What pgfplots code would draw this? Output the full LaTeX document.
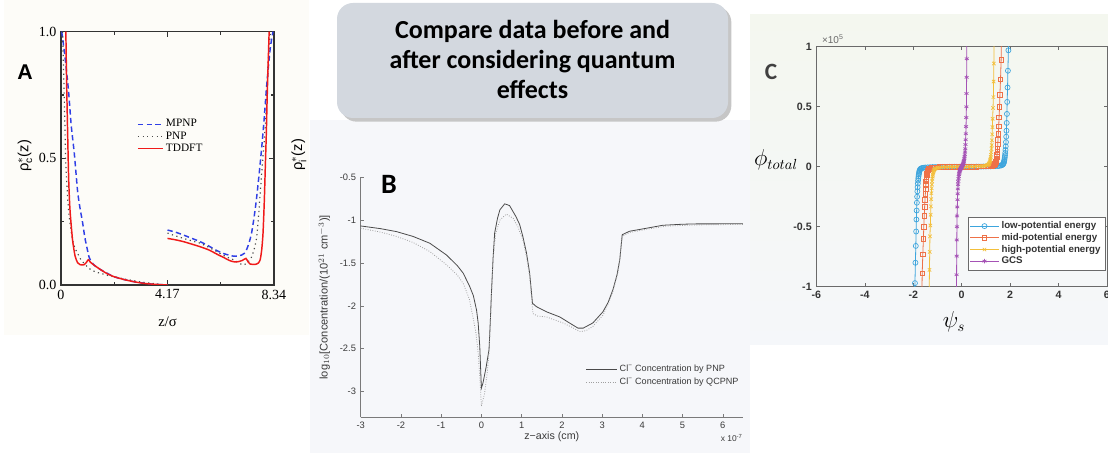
\documentclass[border=0pt]{standalone}
\usepackage{fontspec}
\setmainfont{Liberation Sans}
\newfontfamily\timesf{Liberation Serif}
\newfontfamily\calib{Carlito}
\usepackage{pgfplots}
\pgfplotsset{compat=1.18}

\definecolor{bgA}{HTML}{FDFCF8}
\definecolor{bgB}{HTML}{F6F7FA}
\definecolor{bgCt}{HTML}{F4F7EF}
\definecolor{bgCb}{HTML}{F5F7FA}
\definecolor{boxc}{HTML}{D3D8DF}
\definecolor{axA}{HTML}{333333}
\definecolor{mpnp}{HTML}{2F3FE6}
\definecolor{pnp}{HTML}{4A4A4A}
\definecolor{tddft}{HTML}{F01A1A}
\definecolor{axB}{HTML}{7A7A7A}
\definecolor{tickB}{HTML}{3A3A3A}
\definecolor{axC}{HTML}{6A6A6A}
\definecolor{tickC}{HTML}{333333}
\definecolor{lowc}{HTML}{3DA5DD}
\definecolor{midc}{HTML}{EE7148}
\definecolor{highc}{HTML}{F3BF3A}
\definecolor{gcsc}{HTML}{A552B5}

\begin{document}
\begin{tikzpicture}
% light panel backgrounds
\fill[bgA] (3pt,88.5pt) rectangle (232pt,339.75pt);
\fill[bgB] (232.5pt,0pt) rectangle (562.5pt,249.75pt);
\shade[top color=bgCt, bottom color=bgCb] (562.5pt,81pt) rectangle (831pt,328.5pt);

% title box
\fill[gray!45, rounded corners=12pt] (255.5pt,248.5pt) rectangle (548.5pt,335pt);
\fill[boxc, rounded corners=12pt] (252.75pt,251.25pt) rectangle (546pt,337.5pt);
\node[align=center, font=\calib\bfseries\fontsize{19.5}{22.5}\selectfont]
  at (399.4pt,295pt) {Compare data before and\\after considering quantum\\effects};

% ---------- panel A ----------
\begin{axis}[
  at={(45.75pt,126pt)}, anchor=south west,
  scale only axis, width=159.75pt, height=190pt,
  xmin=0, xmax=8.34, ymin=0, ymax=1,
  xtick={0,4.17,8.34}, xticklabels={0,4.17,8.34},
  ytick={0,0.5,1}, yticklabels={0.0,0.5,1.0},
  minor xtick={2.085,6.255}, minor ytick={0.25,0.75},
  tick align=inside, major tick length=4pt, minor tick length=2.5pt,
  axis line style={line width=1.1pt, color=axA},
  every tick/.style={line width=0.9pt, color=axA},
  ticklabel style={font=\timesf\fontsize{10.5}{12}\selectfont},
  xlabel={z/σ},
  xlabel style={font=\timesf\fontsize{11}{13}\selectfont, at={(axis description cs:0.5,-0.146)}, anchor=center},
  ylabel={ρ$^{*}_{\mathrm{c}}$(z)},
  ylabel style={font=\fontsize{11}{13}\selectfont, at={(axis description cs:-0.169,0.51)}, anchor=center},
  legend style={at={(0.35,0.67)}, anchor=north west, draw=none, fill=none,
    font=\timesf\fontsize{8.5}{10}\selectfont, row sep=-2pt, inner sep=1pt},
  legend cell align=left,
  legend image code/.code={\draw[#1] (0cm,0cm) -- (0.65cm,0cm);},
]
\addplot[mpnp, line width=1.1pt, dash pattern=on 4pt off 2.5pt, smooth, tension=0.4] coordinates {
(0.03,1.0)(0.12,0.93)(0.2,0.86)(0.3,0.76)(0.4,0.63)(0.52,0.52)(0.65,0.37)(0.75,0.3)
(0.84,0.25)(0.93,0.19)(1.01,0.15)(1.1,0.11)(1.2,0.09)(1.3,0.078)(1.56,0.06)(2.07,0.033)
(2.45,0.022)(2.85,0.013)(3.5,0.004)(4.17,0)};
\addlegendentry{MPNP}
\addplot[pnp, line width=0.9pt, dash pattern=on 0.9pt off 2.6pt, smooth, tension=0.4] coordinates {
(0.06,1.0)(0.1,0.85)(0.13,0.73)(0.16,0.6)(0.19,0.47)(0.25,0.36)(0.32,0.27)(0.45,0.18)
(0.55,0.145)(0.65,0.125)(0.78,0.1)(0.91,0.085)(1.05,0.07)(1.17,0.06)(1.4,0.05)(1.56,0.046)
(1.9,0.036)(2.2,0.03)(2.5,0.023)(2.85,0.017)(3.2,0.011)(3.5,0.007)(3.85,0.003)(4.17,0)};
\addlegendentry{PNP}
\addplot[tddft, line width=1.1pt, smooth, tension=0.4] coordinates {
(0.19,1.0)(0.22,0.8)(0.26,0.6)(0.3,0.42)(0.35,0.3)(0.45,0.18)(0.55,0.115)(0.65,0.088)
(0.75,0.08)(0.9,0.08)(1.0,0.09)(1.07,0.1)(1.15,0.09)(1.3,0.078)(1.56,0.06)(1.8,0.045)
(2.07,0.033)(2.45,0.022)(2.85,0.013)(3.2,0.007)(3.5,0.004)(3.85,0.0015)(4.17,0)};
\addlegendentry{TDDFT}
\addplot[mpnp, line width=1.1pt, dash pattern=on 4pt off 2.5pt, smooth, tension=0.4, forget plot] coordinates {
(4.17,0.217)(4.5,0.208)(4.8,0.197)(5.1,0.185)(5.45,0.171)(5.8,0.153)(6.1,0.136)(6.4,0.123)
(6.74,0.114)(6.9,0.114)(7.07,0.118)(7.18,0.125)(7.26,0.138)(7.36,0.165)(7.46,0.204)(7.55,0.26)
(7.65,0.336)(7.75,0.43)(7.85,0.533)(7.95,0.65)(8.04,0.77)(8.12,0.86)(8.2,0.94)(8.3,1.0)};
\addplot[pnp, line width=0.9pt, dash pattern=on 0.9pt off 2.6pt, smooth, tension=0.4, forget plot] coordinates {
(4.17,0.205)(4.6,0.19)(4.93,0.18)(5.2,0.172)(5.45,0.165)(5.8,0.148)(6.1,0.132)(6.4,0.115)
(6.74,0.1)(6.95,0.088)(7.13,0.079)(7.25,0.085)(7.36,0.095)(7.46,0.11)(7.56,0.14)(7.65,0.18)
(7.72,0.25)(7.78,0.336)(7.88,0.47)(7.98,0.6)(8.05,0.73)(8.1,0.86)(8.15,0.94)(8.2,1.0)};
\addplot[tddft, line width=1.1pt, smooth, tension=0.4, forget plot] coordinates {
(4.17,0.184)(4.5,0.178)(4.8,0.171)(5.1,0.162)(5.45,0.151)(5.8,0.138)(6.1,0.122)(6.4,0.107)
(6.61,0.096)(6.8,0.091)(6.94,0.092)(7.1,0.097)(7.24,0.105)(7.32,0.092)(7.4,0.083)(7.59,0.081)
(7.72,0.086)(7.8,0.1)(7.86,0.14)(7.91,0.204)(7.96,0.33)(8.0,0.467)(8.04,0.6)(8.07,0.73)
(8.11,0.87)(8.15,1.0)};
\end{axis}
\node[rotate=90, font=\fontsize{11}{13}\selectfont] at (224.25pt,223.5pt) {ρ$^{*}_{\mathrm{i}}$(z)};
\node[font=\bfseries\fontsize{16}{18}\selectfont] at (18.75pt,285.75pt) {A};

% ---------- panel B ----------
\begin{axis}[
  at={(270.5pt,26.8pt)}, anchor=south west,
  scale only axis, width=286.7pt, height=180pt,
  xmin=-3, xmax=6.5, ymin=-3.3, ymax=-0.5,
  xtick={-3,-2,...,6}, ytick={-3,-2.5,...,-0.5},
  axis x line*=bottom, axis y line*=left,
  axis line style={color=axB, line width=0.5pt, -},
  tick align=inside, major tick length=2.5pt,
  every tick/.style={color=axB, line width=0.4pt},
  /pgf/number format/assume math mode=true,
  ticklabel style={font=\fontsize{7}{8}\selectfont, color=tickB},
  xlabel={z−axis (cm)},
  xlabel style={font=\fontsize{8}{10}\selectfont, color=tickB, at={(axis description cs:0.5,-0.08)}, anchor=center},
  ylabel={log$_{10}$[Concentration/(10$^{21}$ cm$^{-3}$)]},
  ylabel style={font=\fontsize{8.3}{10}\selectfont, color=tickB, at={(axis description cs:-0.095,0.5)}, anchor=center},
  legend style={at={(0.585,0.235)}, anchor=north west, draw=none, fill=none,
    font=\fontsize{6.8}{8}\selectfont, text=tickB, row sep=-1pt, inner sep=1pt},
  legend cell align=left,
  legend image code/.code={\draw[#1] (0cm,0cm) -- (0.8cm,0cm);},
]
\addplot[color=pnp, line width=0.6pt] coordinates {
(-3,-1.068)(-2.5,-1.1)(-2.11,-1.134)(-1.7,-1.19)(-1.28,-1.27)(-0.87,-1.406)(-0.6,-1.53)
(-0.45,-1.62)(-0.29,-1.775)(-0.2,-1.88)(-0.12,-2.05)(-0.08,-2.2)(-0.04,-2.475)(0.0,-2.96)
(0.04,-2.9)(0.12,-2.71)(0.19,-2.51)(0.22,-2.2)(0.25,-1.85)(0.29,-1.45)(0.33,-1.15)(0.4,-0.98)
(0.46,-0.88)(0.58,-0.81)(0.7,-0.83)(0.86,-0.96)(0.95,-1.05)(1.03,-1.19)(1.12,-1.38)(1.2,-1.62)
(1.27,-1.97)(1.37,-2.01)(1.62,-2.07)(1.95,-2.13)(2.19,-2.2)(2.4,-2.26)(2.53,-2.26)(2.77,-2.2)
(3.02,-2.07)(3.15,-1.96)(3.27,-1.81)(3.37,-1.64)(3.44,-1.46)(3.5,-1.17)(3.68,-1.13)(4.1,-1.095)
(4.51,-1.06)(5.0,-1.048)(5.34,-1.044)(6.5,-1.043)};
\addlegendentry{Cl\textsuperscript{−} Concentration by PNP}
\addplot[color=gray!75, line width=0.6pt, dash pattern=on 0.6pt off 1.2pt] coordinates {
(-3,-1.095)(-2.5,-1.14)(-2.11,-1.19)(-1.7,-1.26)(-1.28,-1.367)(-0.87,-1.52)(-0.6,-1.64)
(-0.45,-1.74)(-0.3,-1.92)(-0.21,-2.13)(-0.14,-2.3)(-0.08,-2.55)(-0.03,-2.9)(0,-3.17)
(0.08,-3.02)(0.14,-2.8)(0.19,-2.55)(0.24,-2.0)(0.29,-1.46)(0.36,-1.15)(0.46,-1.0)(0.62,-0.93)
(0.79,-0.98)(0.9,-1.07)(1.03,-1.23)(1.12,-1.42)(1.2,-1.66)(1.28,-2.09)(1.4,-2.12)(1.62,-2.13)
(2.03,-2.2)(2.25,-2.25)(2.44,-2.3)(2.6,-2.29)(2.77,-2.24)(3.02,-2.11)(3.15,-1.98)(3.27,-1.83)
(3.4,-1.6)(3.5,-1.19)(3.68,-1.145)(4.1,-1.107)(4.6,-1.07)(5.34,-1.056)(6.5,-1.05)};
\addlegendentry{Cl\textsuperscript{−} Concentration by QCPNP}
\end{axis}
\node[font=\calib\bfseries\fontsize{21}{24}\selectfont] at (291.75pt,201.75pt) {B};
\node[font=\fontsize{6.3}{7}\selectfont, color=tickB] at (548.8pt,11.25pt) {x 10\textsuperscript{-7}};

% ---------- panel C ----------
\begin{axis}[
  at={(612.3pt,124.7pt)}, anchor=south west,
  scale only axis, width=217.9pt, height=180pt,
  xmin=-6, xmax=6, ymin=-1, ymax=1,
  xtick={-6,-4,...,6}, ytick={-1,-0.5,0,0.5,1},
  tick align=inside, major tick length=2.5pt,
  axis line style={color=axC, line width=0.5pt},
  every tick/.style={color=axC, line width=0.4pt},
  /pgf/number format/assume math mode=true,
  ticklabel style={font=\bfseries\fontsize{8}{9}\selectfont, color=tickC},
  clip marker paths=true,
  legend style={at={(0.521,0.292)}, anchor=north west, draw=axC, fill=white,
    font=\bfseries\fontsize{7.3}{9}\selectfont, text=tickC, row sep=-2pt, inner sep=1.5pt},
  legend cell align=left,
  legend image code/.code={\draw[mark repeat=2, mark phase=2, #1] plot coordinates {(0cm,0cm)(0.37cm,0cm)(0.74cm,0cm)};},
]
\addplot[lowc, line width=0.6pt, mark=o, mark size=1.9pt, mark options={solid, line width=0.5pt}] coordinates {
(-1.945,-1.1)(-1.93,-0.97)(-1.91,-0.80)(-1.895,-0.66)(-1.88,-0.54)(-1.87,-0.44)(-1.86,-0.365)
(-1.85,-0.30)(-1.84,-0.25)(-1.83,-0.205)(-1.82,-0.17)(-1.81,-0.14)(-1.80,-0.115)(-1.79,-0.095)
(-1.78,-0.078)(-1.77,-0.064)(-1.76,-0.052)(-1.75,-0.042)(-1.74,-0.034)(-1.73,-0.027)(-1.71,-0.021)
(-1.69,-0.017)(-1.66,-0.013)(-1.62,-0.01)(-1.56,-0.008)(-1.5,-0.006)(-1.4,-0.005)(-1.3,-0.004)
(-1.2,-0.003)(-1.1,-0.003)(-1.0,-0.002)(-0.9,-0.002)(-0.8,-0.001)(-0.7,-0.001)(-0.6,-0.001)
(-0.5,0)(-0.4,0)(-0.3,0)(-0.2,0)(-0.1,0)(0,0)(0.1,0)(0.2,0)(0.3,0)(0.4,0)(0.5,0)
(0.6,0.001)(0.7,0.001)(0.8,0.001)(0.9,0.002)(1.0,0.002)(1.1,0.003)(1.2,0.003)(1.3,0.004)
(1.4,0.005)(1.5,0.006)(1.56,0.008)(1.62,0.01)(1.66,0.013)(1.69,0.017)(1.71,0.021)(1.73,0.027)
(1.74,0.034)(1.75,0.042)(1.76,0.052)(1.77,0.064)(1.78,0.078)(1.79,0.095)(1.80,0.115)(1.81,0.14)
(1.82,0.17)(1.83,0.205)(1.84,0.25)(1.85,0.30)(1.86,0.365)(1.87,0.44)(1.88,0.54)(1.895,0.66)
(1.91,0.80)(1.93,0.97)(1.945,1.1)};
\addlegendentry{low-potential energy}
\addplot[midc, line width=0.6pt, mark=square, mark size=1.7pt, mark options={solid, line width=0.5pt}] coordinates {
(-1.645,-1.1)(-1.63,-0.89)(-1.605,-0.73)(-1.58,-0.60)(-1.565,-0.50)(-1.545,-0.41)(-1.53,-0.335)
(-1.515,-0.275)(-1.50,-0.225)(-1.49,-0.185)(-1.48,-0.15)(-1.47,-0.123)(-1.46,-0.10)(-1.45,-0.082)
(-1.44,-0.067)(-1.43,-0.055)(-1.42,-0.045)(-1.41,-0.037)(-1.395,-0.03)(-1.38,-0.024)(-1.36,-0.019)
(-1.33,-0.015)(-1.29,-0.012)(-1.24,-0.009)(-1.18,-0.007)(-1.1,-0.005)(-1.0,-0.004)(-0.9,-0.003)
(-0.8,-0.002)(-0.7,-0.002)(-0.6,-0.001)(-0.5,-0.001)(-0.4,0)(-0.3,0)(-0.2,0)(-0.1,0)(0,0)
(0.1,0)(0.2,0)(0.3,0)(0.4,0)(0.5,0.001)(0.6,0.001)(0.7,0.002)(0.8,0.002)(0.9,0.003)(1.0,0.004)
(1.1,0.005)(1.18,0.007)(1.24,0.009)(1.29,0.012)(1.33,0.015)(1.36,0.019)(1.38,0.024)(1.395,0.03)
(1.41,0.037)(1.42,0.045)(1.43,0.055)(1.44,0.067)(1.45,0.082)(1.46,0.10)(1.47,0.123)(1.48,0.15)
(1.49,0.185)(1.50,0.225)(1.515,0.275)(1.53,0.335)(1.545,0.41)(1.565,0.50)(1.58,0.60)(1.605,0.73)
(1.63,0.89)(1.645,1.1)};
\addlegendentry{mid-potential energy}
\addplot[highc, line width=0.6pt, mark=x, mark size=1.8pt, mark options={solid, line width=0.5pt}] coordinates {
(-1.345,-1.1)(-1.33,-0.86)(-1.32,-0.71)(-1.31,-0.58)(-1.295,-0.49)(-1.28,-0.40)(-1.27,-0.33)
(-1.26,-0.27)(-1.25,-0.22)(-1.24,-0.18)(-1.23,-0.148)(-1.22,-0.121)(-1.21,-0.10)(-1.20,-0.082)
(-1.19,-0.067)(-1.18,-0.055)(-1.17,-0.045)(-1.16,-0.037)(-1.145,-0.03)(-1.13,-0.024)(-1.11,-0.019)
(-1.08,-0.015)(-1.04,-0.012)(-0.99,-0.009)(-0.93,-0.007)(-0.85,-0.005)(-0.75,-0.004)(-0.65,-0.003)
(-0.55,-0.002)(-0.45,-0.001)(-0.35,-0.001)(-0.25,0)(-0.15,0)(-0.05,0)(0.05,0)(0.15,0)(0.25,0)
(0.35,0.001)(0.45,0.001)(0.55,0.002)(0.65,0.003)(0.75,0.004)(0.85,0.005)(0.93,0.007)(0.99,0.009)
(1.04,0.012)(1.08,0.015)(1.11,0.019)(1.13,0.024)(1.145,0.03)(1.16,0.037)(1.17,0.045)(1.18,0.055)
(1.19,0.067)(1.20,0.082)(1.21,0.10)(1.22,0.121)(1.23,0.148)(1.24,0.18)(1.25,0.22)(1.26,0.27)
(1.27,0.33)(1.28,0.40)(1.295,0.49)(1.31,0.58)(1.32,0.71)(1.33,0.86)(1.345,1.1)};
\addlegendentry{high-potential energy}
\addplot[gcsc, line width=0.6pt, mark=asterisk, mark size=1.7pt, mark options={solid, line width=0.5pt}] coordinates {
(-0.215,-1.1)(-0.21,-0.9)(-0.205,-0.745)(-0.2,-0.61)(-0.195,-0.5)(-0.19,-0.41)(-0.18,-0.335)
(-0.172,-0.275)(-0.165,-0.225)(-0.157,-0.185)(-0.15,-0.15)(-0.14,-0.123)(-0.13,-0.1)(-0.12,-0.082)
(-0.11,-0.067)(-0.1,-0.055)(-0.09,-0.045)(-0.08,-0.037)(-0.07,-0.03)(-0.06,-0.024)(-0.05,-0.019)
(-0.04,-0.015)(-0.03,-0.011)(-0.02,-0.007)(-0.01,-0.004)(0,0)(0.01,0.004)(0.02,0.007)(0.03,0.011)
(0.04,0.015)(0.05,0.019)(0.06,0.024)(0.07,0.03)(0.08,0.037)(0.09,0.045)(0.1,0.055)(0.11,0.067)
(0.12,0.082)(0.13,0.1)(0.14,0.123)(0.15,0.15)(0.157,0.185)(0.165,0.225)(0.172,0.275)(0.18,0.335)
(0.19,0.41)(0.195,0.5)(0.2,0.61)(0.205,0.745)(0.21,0.9)(0.215,1.1)};
\addlegendentry{GCS}
\end{axis}
\node[font=\fontsize{7.5}{9}\selectfont, color=axC, anchor=south west] at (613pt,303.5pt) {×10\textsuperscript{5}};
\node[font=\fontsize{16}{18}\selectfont] at (582pt,219.75pt) {$\phi_{total}$};
\node[font=\fontsize{16}{18}\selectfont] at (715.5pt,98.25pt) {$\psi_{s}$};
\node[font=\calib\bfseries\fontsize{17.5}{20}\selectfont, color=black!75] at (578.25pt,285.75pt) {C};

\pgfresetboundingbox
\useasboundingbox (0pt,0pt) rectangle (831pt,339.75pt);
\end{tikzpicture}
\end{document}
